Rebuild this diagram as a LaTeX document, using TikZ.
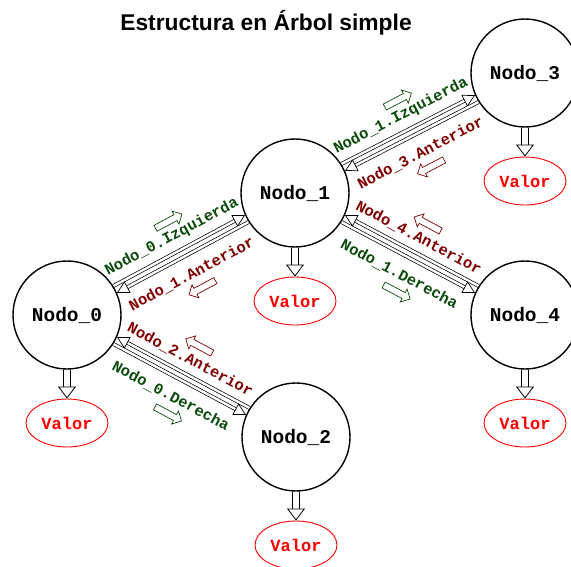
\documentclass[tikz,border=0pt]{standalone}
\usepackage{fontspec}
\setmainfont{Liberation Sans}
\setmonofont{Liberation Mono}
\usetikzlibrary{shapes.geometric, shapes.arrows, arrows.meta, backgrounds}
\definecolor{verde}{RGB}{10,75,10}
\definecolor{granate}{RGB}{128,0,0}

\begin{document}
\begin{tikzpicture}[x=1pt, y=-1pt,
    nodo/.style={circle, draw, line width=1.4pt, minimum size=108pt, inner sep=0pt,
      font=\ttfamily\bfseries\fontsize{19.5}{22}\selectfont},
    valor/.style={ellipse, draw=red, line width=0.9pt, minimum width=82pt, minimum height=48pt,
      inner sep=0pt, text=red, font=\ttfamily\bfseries\fontsize{17}{19}\selectfont},
    enlace/.style={double, double distance=2.4pt, line width=0.7pt,
      -{Triangle[open, fill=white, line width=0.7pt, length=12pt, width=13pt]}},
    baja/.style={double, double distance=6pt, line width=0.8pt,
      -{Triangle[open, fill=white, line width=0.8pt, length=12pt, width=18pt]}},
    etiq/.style={font=\ttfamily\bfseries\fontsize{15.5}{17}\selectfont, inner sep=0pt, sloped},
    izq/.style={etiq, text=verde},
    ant/.style={etiq, text=granate},
    icono/.style={single arrow, draw, line width=0.7pt, minimum height=30pt, minimum width=14pt,
      single arrow head extend=4pt, inner sep=3pt, sloped},
  ]
  \useasboundingbox (0,0) rectangle (571,566);

  \node[font=\bfseries\fontsize{22.8}{26}\selectfont] (titulo) at (266,23) {Estructura en Árbol simple};

  % nodos del arbol
  \node[nodo] (n0) at (67,315) {Nodo\_0};
  \node[nodo] (n1) at (295,193) {Nodo\_1};
  \node[nodo] (n2) at (296,437) {Nodo\_2};
  \node[nodo] (n3) at (525,73) {Nodo\_3};
  \node[nodo] (n4) at (525,315) {Nodo\_4};

  % valores
  \node[valor] (v0) at (67,423) {Valor};
  \node[valor] (v1) at (295,301) {Valor};
  \node[valor] (v2) at (296,545) {Valor};
  \node[valor] (v3) at (525,181) {Valor};
  \node[valor] (v4) at (525,423) {Valor};

  \begin{scope}[on background layer]
    \foreach \n in {0,...,4}
      \draw[baja] (n\n) -- (v\n);

    % hijos izquierdos
    \draw[enlace] (n0.32) -- (n1.204);
    \draw[enlace] (n1.212) -- (n0.24);
    \draw[enlace] (n1.32) -- (n3.204);
    \draw[enlace] (n3.212) -- (n1.24);

    % hijos derechos
    \draw[enlace] (n4.148) -- (n1.336);
    \draw[enlace] (n1.328) -- (n4.156);
    \draw[enlace] (n2.148) -- (n0.336);
    \draw[enlace] (n0.328) -- (n2.156);
  \end{scope}

  % etiquetas
  \path (n0) -- node[izq, above=12pt] {Nodo\_0.Izquierda}
                node[ant, below=16pt] {Nodo\_1.Anterior}
                node[icono, draw=verde, pos=.52, above=31pt] {}
                node[icono, draw=granate, pos=.53, below=36pt, shape border rotate=180] {} (n1);
  \path (n1) -- node[izq, above=12pt] {Nodo\_1.Izquierda}
                node[ant, below=16pt] {Nodo\_3.Anterior}
                node[icono, draw=verde, pos=.52, above=31pt] {}
                node[icono, draw=granate, pos=.53, below=36pt, shape border rotate=180] {} (n3);
  \path (n1) -- node[ant, above=12pt] {Nodo\_4.Anterior}
                node[izq, below=16pt] {Nodo\_1.Derecha}
                node[icono, draw=granate, pos=.52, above=31pt, shape border rotate=180] {}
                node[icono, draw=verde, pos=.53, below=36pt] {} (n4);
  \path (n0) -- node[ant, above=12pt] {Nodo\_2.Anterior}
                node[izq, below=16pt] {Nodo\_0.Derecha}
                node[icono, draw=granate, pos=.52, above=31pt, shape border rotate=180] {}
                node[icono, draw=verde, pos=.53, below=36pt] {} (n2);
\end{tikzpicture}
\end{document}
